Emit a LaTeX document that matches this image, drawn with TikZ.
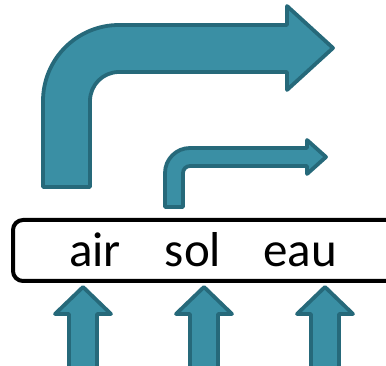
\documentclass[tikz,border=0pt]{standalone}
\usepackage{fontspec}
\setmainfont{Carlito}
\definecolor{flowfill}{RGB}{58,143,164}
\definecolor{flowline}{RGB}{38,105,122}
\tikzset{
	flow/.style={draw=flowline, fill=flowfill, line width=3.8pt, line join=round},
	word/.style={anchor=base, inner sep=0pt, font=\fontsize{49}{49}\selectfont}
}
\begin{document}
\begin{tikzpicture}[x=1pt, y=1pt]
		\useasboundingbox (0, 0) rectangle (386, 366);
		\clip (0, 0) rectangle (386, 366);

		% big bent arrow
		\draw[flow]
		(43, 179) -- (43, 265)
		arc[start angle=180, end angle=90, radius=76] --
		(287, 341) -- (287, 360) -- (333, 318) -- (287, 276) -- (287, 294) --
		(119, 294)
		arc[start angle=90, end angle=180, radius=29] --
		(90, 179) --
		cycle;

		% small bent arrow
		\draw[flow]
		(165, 159) -- (165, 193)
		arc[start angle=180, end angle=90, radius=25] --
		(307, 218) -- (307, 226) -- (326, 209) -- (307, 192) -- (307, 200) --
		(190, 200)
		arc[start angle=90, end angle=180, radius=7] --
		(183, 159) --
		cycle;

		% box
		\draw[line width=4pt, rounded corners=10pt] (400, 146) -- (13, 146) -- (13, 85) -- (400, 85);

		\node[word] (air) at (95, 99) {air};
		\node[word] (sol) at (193, 99) {sol};
		\node[word] (eau) at (300, 99) {eau};

		% inputs
		\foreach \cx in {83, 204, 325}
			\draw[flow]
			(\cx-14, -5) -- (\cx-14, 52) -- (\cx-28, 52) -- (\cx, 79) --
			(\cx+28, 52) -- (\cx+14, 52) -- (\cx+14, -5) -- cycle;
	\end{tikzpicture}
\end{document}
